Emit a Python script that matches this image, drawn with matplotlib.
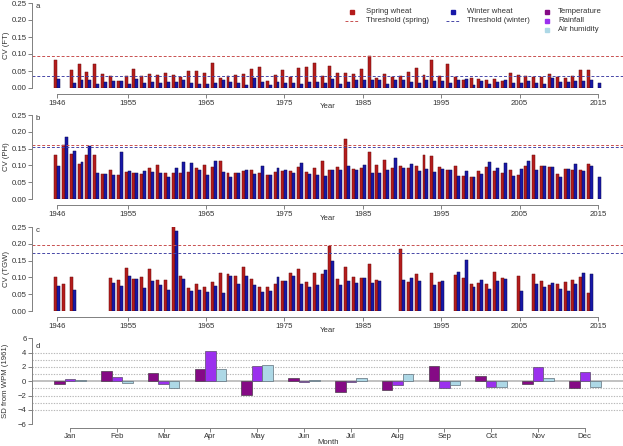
import numpy as np
import matplotlib
matplotlib.use('Agg')
import matplotlib.pyplot as plt

plt.rcParams['font.family'] = ['Liberation Sans', 'DejaVu Sans']

nan = np.nan
years = np.arange(1946, 2016)

# CV of flowering time (panel a)
ft_spring = [0.081, nan, 0.054, 0.071, 0.047, 0.070, 0.042, 0.036, 0.020, 0.034,
             0.056, 0.034, 0.041, 0.039, 0.045, 0.039, 0.033, 0.050, 0.051, 0.044,
             0.075, 0.029, 0.036, 0.037, 0.042, 0.056, 0.063, 0.021, 0.037, 0.053,
             0.033, 0.059, 0.062, 0.074, 0.034, 0.064, 0.044, 0.044, 0.040, 0.056,
             0.093, 0.030, 0.042, 0.032, 0.034, 0.048, 0.059, 0.037, 0.083, 0.036,
             0.071, 0.032, 0.025, 0.030, 0.026, 0.024, 0.027, 0.022, 0.044, 0.037,
             0.034, 0.033, 0.031, 0.042, 0.032, 0.029, 0.034, 0.053, 0.053, nan]
ft_winter = [0.027, nan, 0.015, 0.024, 0.025, 0.012, 0.017, 0.021, 0.020, 0.013,
             0.026, 0.015, 0.017, 0.015, 0.017, 0.018, 0.025, 0.015, 0.011, 0.011,
             0.015, 0.025, 0.018, 0.015, 0.009, 0.029, 0.019, 0.009, 0.019, 0.016,
             0.015, 0.012, 0.019, 0.018, 0.015, 0.026, 0.012, 0.018, 0.023, 0.024,
             0.023, 0.023, 0.012, 0.024, 0.025, 0.017, 0.016, 0.024, 0.021, 0.021,
             0.016, 0.024, 0.026, 0.010, 0.021, 0.011, 0.017, 0.025, 0.016, 0.016,
             0.021, 0.016, 0.012, 0.029, 0.018, 0.019, 0.021, 0.021, 0.024, 0.015]

# CV of plant height (panel b)
ph_spring = [0.131, 0.160, 0.133, 0.104, 0.130, 0.130, 0.073, 0.087, 0.070, 0.080,
             0.077, 0.073, 0.092, 0.100, 0.078, 0.078, 0.078, 0.079, 0.093, 0.100,
             0.095, 0.112, 0.076, 0.078, 0.083, 0.085, 0.078, 0.070, 0.081, 0.084,
             0.084, 0.096, 0.079, 0.093, 0.114, 0.085, 0.094, 0.180, 0.089, 0.091,
             0.140, 0.101, 0.116, 0.091, 0.097, 0.092, 0.097, 0.131, 0.127, 0.094,
             0.087, 0.097, 0.069, 0.065, 0.083, 0.094, 0.084, 0.076, 0.087, 0.072,
             0.097, 0.132, 0.097, 0.094, 0.074, 0.089, 0.087, 0.085, 0.104, nan]
ph_winter = [0.099, 0.186, 0.144, 0.110, 0.157, 0.078, 0.073, 0.070, 0.141, 0.082,
             0.077, 0.084, 0.081, 0.077, 0.065, 0.093, 0.109, 0.107, 0.085, 0.070,
             0.114, 0.081, 0.065, 0.078, 0.085, 0.074, 0.097, 0.071, 0.091, 0.087,
             0.077, 0.107, 0.075, 0.070, 0.069, 0.085, 0.086, 0.097, 0.086, 0.102,
             0.078, 0.078, 0.085, 0.123, 0.092, 0.103, 0.084, 0.088, 0.079, 0.090,
             0.086, 0.069, 0.084, 0.065, 0.074, 0.109, 0.091, 0.106, 0.068, 0.089,
             0.112, 0.087, 0.097, 0.094, 0.064, 0.088, 0.105, 0.084, 0.099, 0.066]

# CV of thousand grain weight (panel c)
tgw_spring = [0.100, 0.079, 0.100, nan, nan, nan, nan, 0.097, 0.092, 0.128,
              0.095, 0.100, 0.126, 0.091, 0.091, 0.255, 0.105, 0.069, 0.079, 0.070,
              0.086, 0.114, 0.111, 0.104, 0.132, 0.095, 0.071, 0.071, 0.079, 0.090,
              0.112, 0.126, 0.085, 0.113, 0.110, 0.194, 0.096, 0.131, 0.102, 0.097,
              0.139, 0.093, nan, nan, 0.186, 0.086, 0.109, nan, 0.113, 0.085,
              nan, 0.108, 0.098, 0.081, 0.084, 0.081, 0.116, 0.099, nan, 0.105,
              nan, 0.110, 0.090, 0.078, 0.079, 0.086, 0.091, 0.100, 0.054, nan]
tgw_winter = [0.075, nan, 0.063, nan, nan, nan, nan, 0.083, 0.074, 0.103,
              0.095, 0.069, 0.088, 0.076, 0.063, 0.239, 0.095, 0.059, 0.062, 0.056,
              0.075, 0.054, 0.103, 0.081, 0.105, 0.076, 0.056, 0.059, 0.100, 0.090,
              0.105, 0.081, 0.072, 0.078, 0.123, 0.150, 0.076, 0.089, 0.083, 0.097,
              0.084, 0.088, nan, nan, 0.093, 0.098, 0.090, nan, 0.076, 0.088,
              nan, 0.117, 0.151, 0.071, 0.092, 0.066, 0.090, 0.094, nan, 0.061,
              nan, 0.081, 0.071, 0.082, 0.066, 0.061, 0.081, 0.113, 0.111, nan]

# thresholds (spring, winter)
thr_ft = (0.093, 0.035)
thr_ph = (0.160, 0.156)
thr_tgw = (0.196, 0.173)

# panel d: SD from WPM (1961)
months = ['Jan', 'Feb', 'Mar', 'Apr', 'May', 'Jun',
          'Jul', 'Aug', 'Sep', 'Oct', 'Nov', 'Dec']
temp = [-0.33, 1.40, 1.16, 1.72, -1.95, 0.47, -1.49, -1.21, 2.09, 0.79, -0.33, -0.93]
rain = [0.28, 0.60, -0.33, 4.23, 2.19, -0.14, -0.14, -0.56, -0.93, -0.79, 2.00, 1.35]
humid = [0.14, -0.23, -0.93, 1.77, 2.33, 0.14, 0.51, 1.02, -0.56, -0.74, 0.51, -0.74]

# colours
c_spring, e_spring = '#B41C1C', '#6E0C0C'
c_winter, e_winter = '#1818A8', '#0A0A50'
c_thr_s, c_thr_w = '#C85050', '#4848A8'
c_temp, c_rain, c_hum = '#850A85', '#9B30EE', '#ADD8E6'
axcol, txtcol = '#808080', '#333333'
fs = 5.6

W, H = 623, 446
fig = plt.figure(figsize=(W / 100, H / 100), dpi=100)


def px_axes(left, top, right, bottom):
    return fig.add_axes([left / W, 1 - bottom / H, (right - left) / W, (bottom - top) / H])


def style(ax, xb, yb, off):
    for s in ['top', 'right']:
        ax.spines[s].set_visible(False)
    for s in ['left', 'bottom']:
        ax.spines[s].set_color(axcol)
        ax.spines[s].set_linewidth(0.7)
    ax.spines['bottom'].set_position(('outward', off * 0.72))
    ax.spines['bottom'].set_bounds(*xb)
    ax.spines['left'].set_bounds(*yb)
    ax.tick_params(direction='out', length=2.8, width=0.7, colors=axcol,
                   labelcolor=txtcol, labelsize=fs, pad=1.2)
    ax.patch.set_alpha(0)


year_ticks = [1946, 1955, 1965, 1975, 1985, 1995, 2005, 2015]
panels = [(ft_spring, ft_winter, thr_ft, 3, 88),
          (ph_spring, ph_winter, thr_ph, 115, 199),
          (tgw_spring, tgw_winter, thr_tgw, 227, 311)]
for sp, wi, thr, top, bot in panels:
    ax = px_axes(32, top, 623, bot)
    sp = np.array(sp)
    wi = np.array(wi)
    m1 = ~np.isnan(sp)
    m2 = ~np.isnan(wi)
    ax.bar(years[m1] - 0.19, sp[m1], width=0.38, color=c_spring,
           edgecolor=e_spring, linewidth=0.35)
    ax.bar(years[m2] + 0.19, wi[m2], width=0.38, color=c_winter,
           edgecolor=e_winter, linewidth=0.35)
    ax.axhline(thr[0], color=c_thr_s, lw=0.7, ls=(0, (3, 2)))
    ax.axhline(thr[1], color=c_thr_w, lw=0.7, ls=(0, (3, 2)))
    ax.set_xlim(1946 - 25 / 7.84, 1946 + 566 / 7.84)
    ax.set_ylim(0, 0.25)
    ax.set_xticks(year_ticks)
    ax.set_xticklabels([str(y) for y in year_ticks])
    yt = np.arange(0, 0.26, 0.05)
    ax.set_yticks(yt)
    ax.set_yticklabels(['%.2f' % v for v in yt])
    style(ax, (1946, 2015), (0, 0.25), 6)

# panel d
ax = px_axes(32, 338.3, 623, 424.3)
mx = np.arange(1, 13)
bw = 0.225
for v in [1, 2, 3, 4, -1, -2, -3, -4]:
    ax.axhline(v, color='#B8B8B8', lw=0.8, ls=(0, (1.2, 1.2)), zorder=0)
ax.axhline(0, color='#B0B0B0', lw=1.1, zorder=0)
ax.bar(mx - bw, temp, width=bw, color=c_temp, edgecolor='#4A3A4A', linewidth=0.5)
ax.bar(mx, rain, width=bw, color=c_rain, edgecolor='#5A4A6A', linewidth=0.5)
ax.bar(mx + bw, humid, width=bw, color=c_hum, edgecolor='#5F6F7A', linewidth=0.5)
ax.set_xlim(1 - 38 / 46.8, 1 + 553 / 46.8)
ax.set_ylim(-6, 6)
ax.set_xticks(mx)
ax.set_xticklabels(months)
ax.set_yticks(np.arange(-6, 7, 2))
style(ax, (1, 12), (-6, 6), 3.4)

# overlay for labels and legend
ov = fig.add_axes([0, 0, 1, 1])
ov.set_xlim(0, W)
ov.set_ylim(H, 0)
ov.axis('off')
kw = dict(fontsize=fs, color=txtcol)

for lab, y in [('CV (FT)', 45.5), ('CV (PH)', 157), ('CV (TGW)', 269), ('SD from WPM (1961)', 381)]:
    ov.text(6, y, lab, rotation=90, ha='center', va='center', **kw)
for lab, y in [('a', 6), ('b', 118), ('c', 230), ('d', 346)]:
    ov.text(36, y, lab, ha='left', va='center', **kw)
for y in [107, 219, 330]:
    ov.text(328, y, 'Year', ha='center', va='center', **kw)
ov.text(328, 442, 'Month', ha='center', va='center', **kw)

r1, r2, r3 = 11.7, 20.7, 29.5
ov.plot(352, r1, 's', ms=2.9, color=c_spring)
ov.text(366, r1, 'Spring wheat', va='center', **kw)
ov.plot([345, 359], [r2, r2], color=c_thr_s, lw=0.7, ls=(0, (3, 2)))
ov.text(366, r2, 'Threshold (spring)', va='center', **kw)
ov.plot(453, r1, 's', ms=2.9, color=c_winter)
ov.text(467, r1, 'Winter wheat', va='center', **kw)
ov.plot([446, 459], [r2, r2], color=c_thr_w, lw=0.7, ls=(0, (3, 2)))
ov.text(467, r2, 'Threshold (winter)', va='center', **kw)
for lab, c, y in [('Temperature', c_temp, r1), ('Rainfall', c_rain, r2), ('Air humidity', c_hum, r3)]:
    ov.plot(547, y, 's', ms=2.9, color=c)
    ov.text(558, y, lab, va='center', **kw)

fig.savefig('out.png', dpi=100)
